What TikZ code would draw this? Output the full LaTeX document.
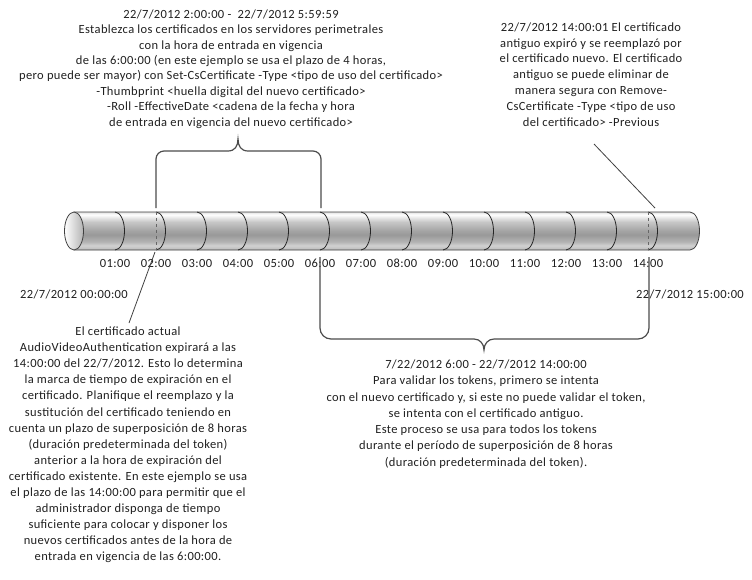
\documentclass[tikz,border=0pt]{standalone}
\usepackage{fontspec}
\setmainfont{Carlito}[LetterSpace=3.0]
\usetikzlibrary{positioning,calc}
\pgfdeclareverticalshading{tubeshade}{100bp}{color(0bp)=(black!30); color(25bp)=(black!30); color(27bp)=(black!24); color(31bp)=(black!18); color(36bp)=(black!30); color(45bp)=(black!40); color(50bp)=(black!36); color(62bp)=(black!22); color(71.5bp)=(white); color(75bp)=(black!12); color(100bp)=(black!12)}

\begin{document}
\begin{tikzpicture}[
          x=1pt, y=-1pt,
          note/.style={align=center, inner sep=0pt, text=black!88, font=\fontsize{12.5}{15.4}\selectfont},
          hour/.style={inner sep=0pt, text=black!88, font=\fontsize{12.5}{14}\selectfont},
          rim/.style={draw=black!85, line width=0.8pt},
          brace/.style={draw=black!70, line width=1.2pt},
          lead/.style={draw=black!75, line width=0.8pt}
      ]
        \useasboundingbox (0,0) rectangle (752,579);
        % tube
        \shade[shading=tubeshade, draw=black!75, line width=0.8pt] (74,212) -- (690,212)
            arc[start angle=-90, end angle=90, x radius=9.5, y radius=19] -- (74,250) -- cycle;
        \foreach \h in {1,...,14}
            \draw[rim] ({74+41*\h},212) arc[start angle=-90, end angle=90, x radius=9.5, y radius=19];
        \shade[left color=white, right color=black!30, draw=black!75, line width=0.8pt] (74,231) ellipse[x radius=9.5, y radius=19];
        \draw[dashed, black!60, line width=0.8pt] (156,212) -- (156,250);
        \draw[dashed, black!60, line width=0.8pt] (648,212) -- (648,250);
        \foreach \h in {1,...,14}
            \node[hour] (t\h) at ({74+41*\h},263) {\ifnum\h<10 0\fi\h:00};
        \node[hour] (tstart) at (74,294) {22/7/2012 00:00:00};
        \node[hour] (tend) at (690,294) {22/7/2012 15:00:00};
        % texts
        \node[note] (setnew) at (231,69) {22/7/2012 2:00:00 -\ \ 22/7/2012 5:59:59\\
            Establezca los certificados en los servidores perimetrales\\
            con la hora de entrada en vigencia\\
            de las 6:00:00 (en este ejemplo se usa el plazo de 4 horas,\\
            pero puede ser mayor) con Set-CsCertificate -Type <tipo de uso del certificado>\\
            -Thumbprint <huella digital del nuevo certificado>\\
            -Roll -EffectiveDate <cadena de la fecha y hora\\
            de entrada en vigencia del nuevo certificado>};
        \node[note, font=\fontsize{12.5}{15.8}\selectfont] (oldgone) at (591,74.5) {22/7/2012 14:00:01 El certificado\\
            antiguo expiró y se reemplazó por\\
            el certificado nuevo. El certificado\\
            antiguo se puede eliminar de\\
            manera segura con Remove-\\
            CsCertificate -Type <tipo de uso\\
            del certificado> -Previous};
        \node[note, font=\fontsize{12.5}{16.1}\selectfont] (curexp) at (128,445) {El certificado actual\\
            AudioVideoAuthentication expirará a las\\
            14:00:00 del 22/7/2012. Esto lo determina\\
            la marca de tiempo de expiración en el\\
            certificado. Planifique el reemplazo y la\\
            sustitución del certificado teniendo en\\
            cuenta un plazo de superposición de 8 horas\\
            (duración predeterminada del token)\\
            anterior a la hora de expiración del\\
            certificado existente. En este ejemplo se usa\\
            el plazo de las 14:00:00 para permitir que el\\
            administrador disponga de tiempo\\
            suficiente para colocar y disponer los\\
            nuevos certificados antes de la hora de\\
            entrada en vigencia de las 6:00:00.};
        \node[note, font=\fontsize{12.5}{16.3}\selectfont] (overlap) at (486,414) {7/22/2012 6:00 - 22/7/2012 14:00:00\\
            Para validar los tokens, primero se intenta\\
            con el nuevo certificado y, si este no puede validar el token,\\
            se intenta con el certificado antiguo.\\
            Este proceso se usa para todos los tokens\\
            durante el período de superposición de 8 horas\\
            (duración predeterminada del token).};
        % braces and leaders
        \coordinate (b2) at (156,208);
        \coordinate (b6) at (321,208);
        \coordinate (c6) at (320,257);
        \coordinate (c14) at (649,257);
        \draw[brace] (b2) -- (156,159) arc[start angle=180, end angle=270, radius=8] -- (228,151)
            .. controls (235,151) and (238,146) .. (238,139)
            .. controls (238,146) and (241,151) .. (248,151) -- (313,151)
            arc[start angle=-90, end angle=0, radius=8] -- (b6);
        \draw[brace] (c6) -- (320,328) arc[start angle=180, end angle=90, radius=11] -- (474,339)
            .. controls (480,339) and (484,344) .. (484,350)
            .. controls (484,344) and (488,339) .. (494,339) -- (638,339)
            arc[start angle=90, end angle=0, radius=11] -- (c14);
        \coordinate (p14) at (655,208);
        \coordinate (q14) at (594,144);
        \coordinate (p2) at (155,252);
        \coordinate (q2) at (129,323);
        \draw[lead] (q14) -- (p14);
        \draw[lead] (p2) -- (q2);
      \end{tikzpicture}
\end{document}
